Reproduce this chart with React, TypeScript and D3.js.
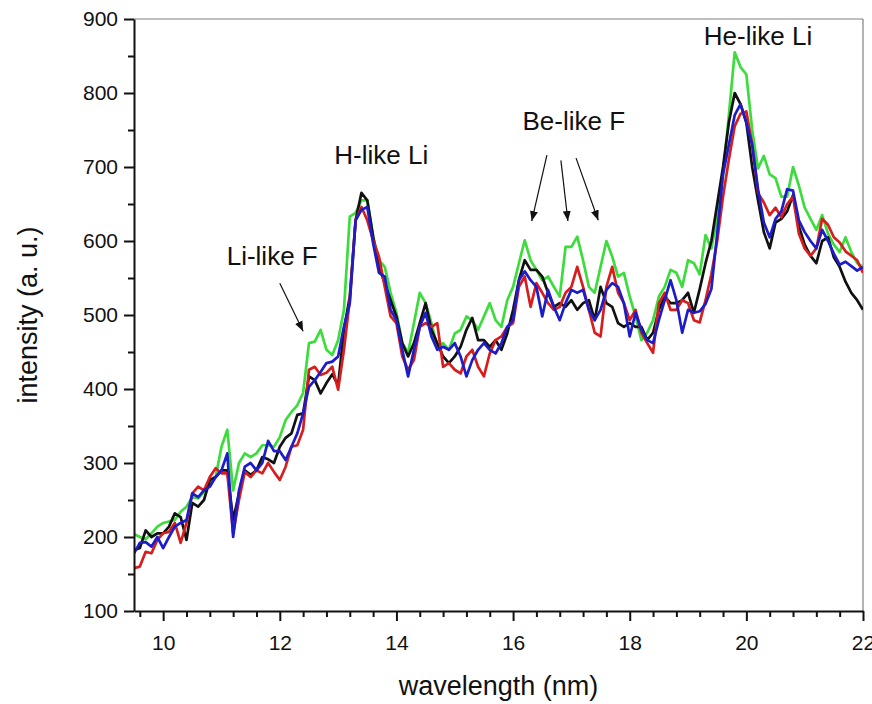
import React from "react";
import * as d3 from "d3";

const width = 872;
const height = 704;
const font = "'Liberation Sans', Arial, sans-serif";

// sampling grid in nm (9.5 .. 22.0, step 0.1)
const wavelengths = d3.range(95, 221).map(d => d / 10);

const black = [
    182, 185, 209, 200, 205, 205, 214, 232, 227, 196,
    246, 241, 250, 277, 281, 290, 290, 223, 259, 290,
    284, 290, 308, 305, 300, 322, 334, 340, 365, 367,
    417, 412, 394, 408, 420, 405, 480, 525, 628, 665,
    655, 606, 565, 543, 520, 498, 462, 444, 462, 489,
    516, 480, 462, 444, 435, 444, 457, 480, 496, 466,
    466, 457, 466, 453, 475, 507, 547, 574, 561, 561,
    552, 530, 511, 516, 511, 520, 507, 516, 520, 493,
    538, 516, 511, 489, 484, 489, 484, 484, 466, 476,
    507, 525, 516, 516, 520, 530, 503, 535, 570, 600,
    650, 700, 760, 800, 785, 760, 700, 655, 612, 590,
    625, 630, 640, 662, 620, 595, 580, 570, 600, 605,
    578, 565, 545, 530, 520, 507
];

const red = [
    158, 160, 180, 178, 196, 205, 207, 219, 192, 219,
    259, 268, 263, 281, 293, 286, 286, 205, 250, 288,
    281, 290, 286, 300, 288, 277, 295, 322, 324, 345,
    426, 430, 419, 422, 430, 399, 453, 520, 628, 646,
    628, 601, 579, 538, 498, 489, 444, 426, 439, 484,
    489, 484, 489, 430, 435, 426, 421, 444, 453, 430,
    417, 448, 466, 471, 484, 489, 538, 552, 511, 543,
    530, 516, 507, 511, 530, 538, 565, 538, 507, 476,
    471, 538, 565, 530, 516, 493, 507, 476, 462, 449,
    516, 530, 507, 507, 520, 516, 493, 490, 520, 555,
    600, 660, 710, 755, 772, 775, 730, 665, 652, 635,
    645, 632, 650, 660, 610, 590, 580, 590, 630, 622,
    605, 598, 586, 580, 574, 557
];

const green = [
    204, 200, 197, 205, 214, 219, 221, 223, 234, 241,
    254, 252, 261, 273, 281, 322, 345, 263, 300, 313,
    308, 313, 324, 324, 322, 335, 358, 369, 378, 395,
    462, 464, 480, 453, 446, 466, 507, 633, 638, 655,
    655, 606, 574, 565, 530, 503, 462, 449, 489, 530,
    516, 489, 457, 462, 453, 475, 480, 498, 493, 480,
    498, 516, 493, 484, 520, 538, 570, 601, 574, 561,
    547, 552, 538, 525, 592, 592, 606, 574, 538, 530,
    565, 600, 579, 552, 557, 525, 498, 466, 476, 493,
    525, 538, 561, 557, 538, 574, 570, 555, 608, 590,
    630, 690, 770, 855, 835, 825, 750, 698, 715, 690,
    685, 660, 660, 700, 675, 645, 630, 615, 635, 610,
    595, 585, 605, 585, 570, 565
];

const blue = [
    178, 192, 193, 187, 200, 185, 200, 214, 219, 223,
    259, 254, 263, 268, 281, 290, 313, 200, 263, 295,
    300, 290, 300, 330, 316, 316, 304, 322, 340, 367,
    403, 412, 423, 435, 437, 444, 484, 516, 628, 642,
    646, 597, 557, 552, 507, 493, 453, 417, 453, 484,
    503, 471, 453, 457, 453, 462, 444, 417, 439, 453,
    462, 453, 448, 462, 484, 493, 547, 559, 547, 538,
    498, 534, 511, 493, 516, 534, 530, 534, 507, 493,
    507, 534, 543, 538, 516, 471, 503, 480, 466, 462,
    493, 520, 547, 520, 476, 507, 503, 505, 515, 535,
    610, 690, 730, 770, 785, 760, 730, 670, 625, 605,
    630, 640, 670, 668, 628, 612, 600, 590, 615, 600,
    583, 568, 572, 566, 560, 565
];

const series = [
    { name: "green", color: "#3ddc3d", values: green },
    { name: "black", color: "#111111", values: black },
    { name: "red", color: "#d61e1e", values: red },
    { name: "blue", color: "#1c1cc8", values: blue },
];

const xMajor = [10, 12, 14, 16, 18, 20, 22];
const xMinor = [9.6, 10.4, 10.8, 11.2, 11.6, 12.4, 12.8, 13.2, 13.6, 14.4, 14.8, 15.2, 15.6,
    16.4, 16.8, 17.2, 17.6, 18.4, 18.8, 19.2, 19.6, 20.4, 20.8, 21.2, 21.6];
const yMajor = [100, 200, 300, 400, 500, 600, 700, 800, 900];
const yMinor = [150, 250, 350, 450, 550, 650, 750, 850];

// annotations, in data coordinates (nm, a.u.)
const labels = [
    { text: "Li-like F", x: 11.87, y: 568 },
    { text: "H-like Li", x: 13.74, y: 704 },
    { text: "Be-like F", x: 17.04, y: 750 },
    { text: "He-like Li", x: 20.2, y: 865 },
];
const arrows = [
    { from: [12.0, 543], to: [12.4, 478] },
    { from: [16.58, 716], to: [16.32, 627] },
    { from: [16.82, 709], to: [16.94, 627] },
    { from: [17.08, 712], to: [17.46, 628] },
];

class App extends React.Component {
    ref!: SVGSVGElement

    componentDidMount() {
        this.renderD3();
    }

    renderD3 = () => {
        const svg = d3.select(this.ref);
        svg.selectAll("*").remove();

        const x = d3.scaleLinear().domain([9.5, 22]).range([134, 863]);
        const y = d3.scaleLinear().domain([100, 900]).range([611, 19]);

        svg.append("defs")
            .append("marker")
            .attr("id", "arrowHead")
            .attr("viewBox", "0 0 10 10")
            .attr("refX", 10)
            .attr("refY", 5)
            .attr("markerWidth", 10)
            .attr("markerHeight", 10)
            .attr("markerUnits", "userSpaceOnUse")
            .attr("orient", "auto")
            .append("path")
            .attr("d", "M0,1L10,5L0,9Z")
            .attr("fill", "#111");

        svg.append("defs")
            .append("clipPath")
            .attr("id", "plotClip")
            .append("rect")
            .attr("x", x(9.5))
            .attr("y", y(900))
            .attr("width", x(22) - x(9.5))
            .attr("height", y(100) - y(900));

        // frame on top and right
        svg.append("line")
            .attr("x1", x(9.5)).attr("x2", x(22))
            .attr("y1", y(900)).attr("y2", y(900))
            .attr("stroke", "#808080").attr("stroke-width", 1.2);
        svg.append("line")
            .attr("x1", x(22)).attr("x2", x(22))
            .attr("y1", y(900)).attr("y2", y(100))
            .attr("stroke", "#808080").attr("stroke-width", 1.2);

        const line = d3.line<number>()
            .x((_, i) => x(wavelengths[i]))
            .y(d => y(d));

        svg.append("g")
            .attr("clip-path", "url(#plotClip)")
            .selectAll("path")
            .data(series)
            .join("path")
            .attr("fill", "none")
            .attr("stroke", d => d.color)
            .attr("stroke-width", 2.7)
            .attr("stroke-linejoin", "round")
            .attr("d", d => line(d.values));

        // axes
        const xAxis = svg.append("g")
            .attr("transform", `translate(0,${y(100)})`)
            .call(d3.axisBottom(x).tickValues(xMajor).tickSize(10).tickSizeOuter(0).tickPadding(14));
        svg.append("g")
            .attr("transform", `translate(0,${y(100)})`)
            .call(d3.axisBottom(x).tickValues(xMinor).tickSize(6).tickSizeOuter(0).tickFormat(() => ""))
            .call(g => g.select(".domain").remove());

        const yAxis = svg.append("g")
            .attr("transform", `translate(${x(9.5)},0)`)
            .call(d3.axisLeft(y).tickValues(yMajor).tickSize(10).tickSizeOuter(0).tickPadding(6));
        svg.append("g")
            .attr("transform", `translate(${x(9.5)},0)`)
            .call(d3.axisLeft(y).tickValues(yMinor).tickSize(6).tickSizeOuter(0).tickFormat(() => ""))
            .call(g => g.select(".domain").remove());

        svg.selectAll(".domain").attr("stroke", "#111").attr("stroke-width", 2);
        svg.selectAll(".tick line").attr("stroke", "#111").attr("stroke-width", 2);
        [xAxis, yAxis].forEach(a => a.selectAll("text")
            .attr("font-family", font)
            .attr("font-size", 21)
            .attr("fill", "#111"));

        // axis titles
        svg.append("text")
            .attr("x", (x(9.5) + x(22)) / 2)
            .attr("y", 695)
            .attr("text-anchor", "middle")
            .attr("font-family", font)
            .attr("font-size", 27)
            .attr("fill", "#111")
            .text("wavelength (nm)");

        svg.append("text")
            .attr("transform", `translate(37,${(y(100) + y(900)) / 2}) rotate(-90)`)
            .attr("text-anchor", "middle")
            .attr("font-family", font)
            .attr("font-size", 27)
            .attr("fill", "#111")
            .text("intensity (a. u.)");

        // annotations
        svg.append("g")
            .selectAll("line")
            .data(arrows)
            .join("line")
            .attr("x1", d => x(d.from[0]))
            .attr("y1", d => y(d.from[1]))
            .attr("x2", d => x(d.to[0]))
            .attr("y2", d => y(d.to[1]))
            .attr("stroke", "#111")
            .attr("stroke-width", 1.2)
            .attr("marker-end", "url(#arrowHead)");

        svg.append("g")
            .selectAll("text")
            .data(labels)
            .join("text")
            .attr("x", d => x(d.x))
            .attr("y", d => y(d.y))
            .attr("text-anchor", "middle")
            .attr("font-family", font)
            .attr("font-size", 26)
            .attr("fill", "#111")
            .text(d => d.text);
    }

    render() {
        return (
            <svg ref={(ref: SVGSVGElement) => { this.ref = ref; }} width={width} height={height}
                style={{ position: "absolute", left: 0, top: 0, background: "#fff" }}>
            </svg>
        )
    }
}

export default App
